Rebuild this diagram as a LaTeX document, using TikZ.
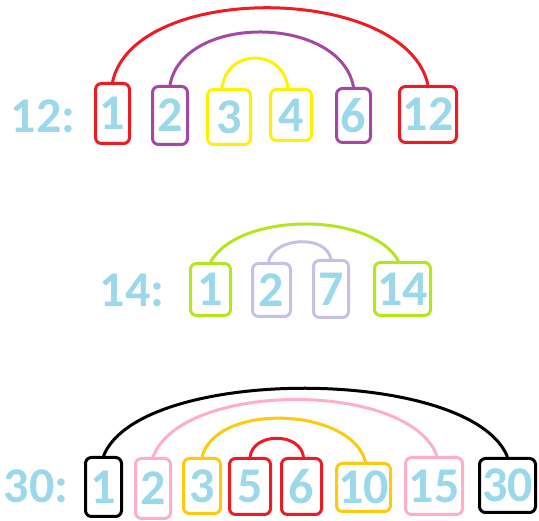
\documentclass[tikz,border=0pt]{standalone}
\usepackage{fontspec}
\setmainfont{Carlito}
\usepackage{xcolor}
\definecolor{numblue}{RGB}{155,217,234}
\definecolor{pred}{RGB}{237,28,36}
\definecolor{ppurple}{RGB}{163,73,164}
\definecolor{pyellow}{RGB}{255,242,0}
\definecolor{pgreen}{RGB}{181,230,29}
\definecolor{plavender}{RGB}{200,191,231}
\definecolor{ppink}{RGB}{255,174,201}
\definecolor{porange}{RGB}{255,201,14}

\begin{document}
\begin{tikzpicture}[x=1pt, y=-1pt, every node/.style={inner sep=0pt, text=numblue, font=\fontsize{50}{50}\bfseries\selectfont},%
        numbox/.style={draw=#1, rounded corners=6pt, line width=3pt}, link/.style={draw=#1, line width=3pt}]
    \useasboundingbox (0,0) rectangle (539,521);
    % twelve
    \node (la) at (43,116) {12:};
    \node[numbox=pred, minimum width=34, minimum height=60] (a1) at (112.5,113.5) {1};
    \node[numbox=ppurple, minimum width=35, minimum height=58] (a2) at (170,115.5) {2};
    \node[numbox=pyellow, minimum width=43, minimum height=55] (a3) at (229,117) {3};
    \node[numbox=pyellow, minimum width=41, minimum height=51] (a4) at (291,115) {4};
    \node[numbox=ppurple, minimum width=34, minimum height=54] (a6) at (353.5,115.5) {6};
    \node[numbox=pred, minimum width=57, minimum height=56] (a12) at (428,114.5) {12};
    \draw[link=pred] (a1.north) .. controls +(22,-101) and +(-22,-101) .. (a12.north);
    \draw[link=ppurple] (a2.north) .. controls +(13,-72) and +(-13,-72) .. (a6.north);
    \draw[link=pyellow] ([xshift=-7pt]a3.north) .. controls +(5,-40) and +(-5,-40) .. ([xshift=-3pt]a4.north);
    % fourteen
    \node (lb) at (132,290) {14:};
    \node[numbox=pgreen, minimum width=40, minimum height=52] (b1) at (210.5,289.5) {1};
    \node[numbox=plavender, minimum width=38, minimum height=53] (b2) at (271.5,290) {2};
    \node[numbox=plavender, minimum width=35, minimum height=57] (b7) at (331,289) {7};
    \node[numbox=pgreen, minimum width=56, minimum height=53] (b14) at (402.5,289) {14};
    \draw[link=pgreen] (b1.north) .. controls +(28,-50) and +(-28,-50) .. ([xshift=-4pt]b14.north);
    \draw[link=plavender] ([xshift=-3pt]b2.north) .. controls +(5,-25) and +(-5,-25) .. (b7.north);
    % thirty
    \node (lc) at (36,486) {30:};
    \node[numbox=black, minimum width=36, minimum height=59] (c1) at (103.5,487) {1};
    \node[numbox=ppink, minimum width=35, minimum height=60] (c2) at (153,488.5) {2};
    \node[numbox=porange, minimum width=37, minimum height=55] (c3) at (202,486) {3};
    \node[numbox=pred, minimum width=41, minimum height=56] (c5) at (250,486.5) {5};
    \node[numbox=pred, minimum width=40, minimum height=56] (c6) at (301.5,486.5) {6};
    \node[numbox=porange, minimum width=54, minimum height=48] (c10) at (363.5,487.5) {10};
    \node[numbox=ppink, minimum width=57, minimum height=57] (c15) at (434,486) {15};
    \node[numbox=black, minimum width=56, minimum height=54] (c30) at (507.5,485.5) {30};
    \draw[link=black] (c1.north) .. controls +(36,-91) and +(-36,-91) .. (c30.north);
    \draw[link=ppink] (c2.north) .. controls +(28,-76) and +(-28,-76) .. ([xshift=3pt]c15.north);
    \draw[link=porange] (c3.north) .. controls +(14,-55) and +(-14,-55) .. ([xshift=2pt]c10.north);
    \draw[link=pred] (c5.north) .. controls +(3,-25) and +(-3,-25) .. ([xshift=2pt]c6.north);
\end{tikzpicture}
\end{document}
